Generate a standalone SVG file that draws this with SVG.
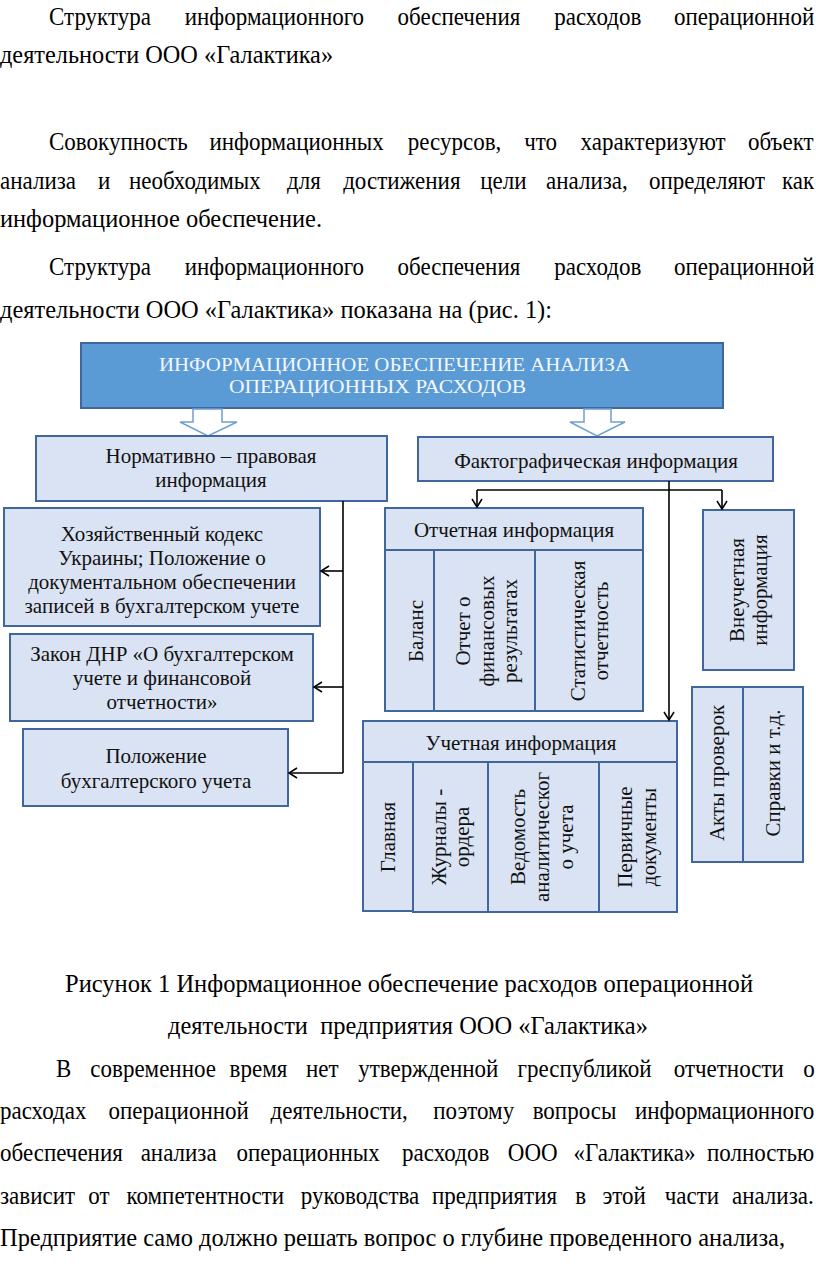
<svg xmlns="http://www.w3.org/2000/svg" width="816" height="1266" viewBox="0 0 816 1266">
<style>
.body{font-family:"Liberation Serif","Times New Roman",serif;font-size:25px;fill:#000}
.t{font-family:"Liberation Serif","Times New Roman",serif;font-size:21px;fill:#111;text-anchor:middle}
.box{fill:#dae3f3;stroke:#41669c;stroke-width:2}
.hdr{fill:#5b9bd5;stroke:#41669c;stroke-width:2}
.ht{font-family:"Liberation Serif","Times New Roman",serif;font-size:19px;fill:#f4f7fc}
.hollow{fill:#fff;stroke:#6f9fd3;stroke-width:1.5}
.ln{fill:none;stroke:#000;stroke-width:1.6}
</style>
<defs>
<marker id="ah" markerWidth="12" markerHeight="12" refX="10" refY="6" orient="auto" markerUnits="userSpaceOnUse">
<path d="M2,1 L10,6 L2,11" fill="none" stroke="#000" stroke-width="1.5"/>
</marker>
</defs>
<rect width="816" height="1266" fill="#fff"/>

<g id="text-top" class="body" transform="scale(0.92,1)">
<text y="25"><tspan x="53.3">Структура</tspan><tspan x="200.8">информационного</tspan><tspan x="432.1">обеспечения</tspan><tspan x="602.4">расходов</tspan><tspan x="732.6">операционной</tspan></text>
<text x="0" y="63" textLength="362" lengthAdjust="spacingAndGlyphs">деятельности ООО «Галактика»</text>
<text y="150"><tspan x="53.3">Совокупность</tspan><tspan x="227.6">информационных</tspan><tspan x="443.3">ресурсов,</tspan><tspan x="569.8">что</tspan><tspan x="631.1">характеризуют</tspan><tspan x="813">объект</tspan></text>
<text y="189"><tspan x="0">анализа</tspan><tspan x="106.5">и</tspan><tspan x="140.2">необходимых</tspan><tspan x="312">для</tspan><tspan x="373">достижения</tspan><tspan x="522">цели</tspan><tspan x="593.5">анализа,</tspan><tspan x="705.4">определяют</tspan><tspan x="850">как</tspan></text>
<text x="0" y="227" textLength="350" lengthAdjust="spacingAndGlyphs">информационное обеспечение.</text>
<text y="275"><tspan x="53.3">Структура</tspan><tspan x="200.8">информационного</tspan><tspan x="432.1">обеспечения</tspan><tspan x="602.4">расходов</tspan><tspan x="732.6">операционной</tspan></text>
<text x="0" y="318" textLength="600" lengthAdjust="spacingAndGlyphs">деятельности ООО «Галактика» показана на (рис. 1):</text>
</g>

<g id="header">
<rect class="hdr" x="81" y="343" width="642" height="65"/>
<text class="ht" x="159" y="371" textLength="471" lengthAdjust="spacingAndGlyphs">ИНФОРМАЦИОННОЕ ОБЕСПЕЧЕНИЕ АНАЛИЗА</text>
<text class="ht" x="229" y="393" textLength="297" lengthAdjust="spacingAndGlyphs">ОПЕРАЦИОННЫХ РАСХОДОВ</text>
</g>

<g id="hollow-arrows">
<polygon class="hollow" points="193,409 222,409 222,422 237,422 208,436 180,422 193,422"/>
<polygon class="hollow" points="584,409 611,409 611,422 625,422 597,436 570,422 584,422"/>
</g>

<g id="normative">
<rect class="box" x="36" y="436" width="351" height="65"/>
<text class="t" x="211" y="463">Нормативно – правовая</text>
<text class="t" x="211" y="487">информация</text>
</g>

<g id="factual">
<rect class="box" x="418" y="437" width="355" height="44"/>
<text class="t" x="596" y="468">Фактографическая информация</text>
</g>

<g id="code">
<rect class="box" x="4" y="508" width="316" height="118"/>
<text class="t" x="162" y="541">Хозяйственный кодекс</text>
<text class="t" x="162" y="565">Украины; Положение о</text>
<text class="t" x="162" y="589">документальном обеспечении</text>
<text class="t" x="162" y="613">записей в бухгалтерском учете</text>
</g>

<g id="law">
<rect class="box" x="10" y="634" width="303" height="87"/>
<text class="t" x="162" y="661">Закон ДНР «О бухгалтерском</text>
<text class="t" x="162" y="685">учете и финансовой</text>
<text class="t" x="162" y="709">отчетности»</text>
</g>

<g id="regulation">
<rect class="box" x="23" y="729" width="265" height="77"/>
<text class="t" x="156" y="763">Положение</text>
<text class="t" x="156" y="788">бухгалтерского учета</text>
</g>

<g id="reporting">
<rect class="box" x="385" y="508" width="258" height="42"/>
<text class="t" x="514" y="537">Отчетная информация</text>
<rect class="box" x="385" y="550" width="49" height="161"/>
<rect class="box" x="434" y="550" width="101" height="161"/>
<rect class="box" x="535" y="550" width="108" height="161"/>
<text class="t" transform="translate(423,631) rotate(-90)">Баланс</text>
<text class="t" transform="translate(470,631) rotate(-90)">Отчет о</text>
<text class="t" transform="translate(494,631) rotate(-90)">финансовых</text>
<text class="t" transform="translate(517,631) rotate(-90)">результатах</text>
<text class="t" transform="translate(585,631) rotate(-90)">Статистическая</text>
<text class="t" transform="translate(608,631) rotate(-90)">отчетность</text>
</g>

<g id="offbook">
<rect class="box" x="703" y="510" width="91" height="160"/>
<text class="t" transform="translate(744,590) rotate(-90)">Внеучетная</text>
<text class="t" transform="translate(767,590) rotate(-90)">информация</text>
</g>

<g id="acts">
<rect class="box" x="692" y="687" width="51" height="175"/>
<rect class="box" x="743" y="687" width="60" height="175"/>
<text class="t" transform="translate(724,773) rotate(-90)">Акты проверок</text>
<text class="t" transform="translate(780,773) rotate(-90)">Справки и т.д.</text>
</g>

<g id="accounting">
<rect class="box" x="363" y="721" width="314" height="41"/>
<text class="t" x="521" y="750">Учетная информация</text>
<rect class="box" x="363" y="762" width="50" height="149"/>
<rect class="box" x="413" y="762" width="75" height="150"/>
<rect class="box" x="488" y="762" width="111" height="150"/>
<rect class="box" x="599" y="762" width="78" height="150"/>
<text class="t" transform="translate(395,837) rotate(-90)">Главная</text>
<text class="t" transform="translate(446,837) rotate(-90)">Журналы -</text>
<text class="t" transform="translate(469,837) rotate(-90)">ордера</text>
<text class="t" transform="translate(525,837) rotate(-90)">Ведомость</text>
<text class="t" transform="translate(549,837) rotate(-90)">аналитическог</text>
<text class="t" transform="translate(573,837) rotate(-90)">о учета</text>
<text class="t" transform="translate(632,837) rotate(-90)">Первичные</text>
<text class="t" transform="translate(656,837) rotate(-90)">документы</text>
</g>

<g id="connectors">
<path class="ln" d="M343,501 V773"/>
<path class="ln" d="M343,571 H321" marker-end="url(#ah)"/>
<path class="ln" d="M343,687 H314" marker-end="url(#ah)"/>
<path class="ln" d="M343,773 H289" marker-end="url(#ah)"/>
<path class="ln" d="M669,481 V720" marker-end="url(#ah)"/>
<path class="ln" d="M477,490 H722" stroke-width="1.2"/>
<path class="ln" d="M477,490 V507" marker-end="url(#ah)"/>
<path class="ln" d="M722,490 V509" marker-end="url(#ah)"/>
</g>

<g id="text-bottom" class="body" transform="scale(0.92,1)">
<text x="70.7" y="992" textLength="747.8" lengthAdjust="spacingAndGlyphs">Рисунок 1 Информационное обеспечение расходов операционной</text>
<text x="182.6" y="1034" xml:space="preserve" textLength="521.7" lengthAdjust="spacingAndGlyphs">деятельности  предприятия ООО «Галактика»</text>
<text y="1077"><tspan x="60.9">В</tspan><tspan x="98.2">современное</tspan><tspan x="249.6">время</tspan><tspan x="332.5">нет</tspan><tspan x="389.3">утвержденной</tspan><tspan x="562.5">греспубликой</tspan><tspan x="732.4">отчетности</tspan><tspan x="873">о</tspan></text>
<text y="1119"><tspan x="0">расходах</tspan><tspan x="118">операционной</tspan><tspan x="294">деятельности,</tspan><tspan x="471">поэтому</tspan><tspan x="579">вопросы</tspan><tspan x="690.2">информационного</tspan></text>
<text y="1161"><tspan x="0">обеспечения</tspan><tspan x="152.9">анализа</tspan><tspan x="257">операционных</tspan><tspan x="437.1">расходов</tspan><tspan x="552">ООО</tspan><tspan x="623.4">«Галактика»</tspan><tspan x="768.5">полностью</tspan></text>
<text y="1204"><tspan x="0">зависит</tspan><tspan x="95.9">от</tspan><tspan x="137.5">компетентности</tspan><tspan x="326.9">руководства</tspan><tspan x="469.6">предприятия</tspan><tspan x="625.3">в</tspan><tspan x="654.9">этой</tspan><tspan x="722.6">части</tspan><tspan x="795.6">анализа.</tspan></text>
<text x="0" y="1246" textLength="853.3" lengthAdjust="spacingAndGlyphs">Предприятие само должно решать вопрос о глубине проведенного анализа,</text>
</g>
</svg>
